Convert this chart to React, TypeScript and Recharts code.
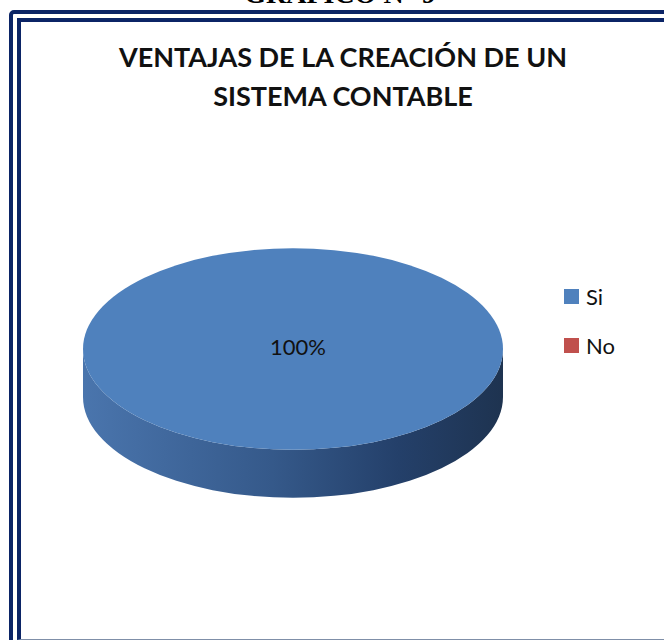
import React from "react";
import { PieChart, Pie, Cell, Legend } from "recharts";

// answers to the survey question
const categories = ["Si", "No"];
const values = [100, 0];
const colors = ["#4f81bd", "#c0504d"];

const data = categories.map((name, i) => ({ name, value: values[i] }));

const FONT = "Lato, 'Open Sans', sans-serif";
const TILT = 0.48; // vertical squash of the 3D disc
const DEPTH = 48; // thickness of the disc

const renderSlice = (props: any) => {
  const { cx, cy, outerRadius, startAngle, endAngle, fill, index } = props;
  if (Math.abs(endAngle - startAngle) < 0.01) return null;
  const rx = outerRadius;
  const ry = outerRadius * TILT;
  const gid = "side-" + index;
  const full = Math.abs(endAngle - startAngle) >= 359.99;

  const pt = (a: number) => {
    const r = (a * Math.PI) / 180;
    return [cx + rx * Math.cos(r), cy - ry * Math.sin(r)];
  };
  let top;
  if (full) {
    top = <ellipse cx={cx} cy={cy} rx={rx} ry={ry} fill={fill} />;
  } else {
    const [x1, y1] = pt(startAngle);
    const [x2, y2] = pt(endAngle);
    const large = Math.abs(endAngle - startAngle) > 180 ? 1 : 0;
    const sweep = endAngle < startAngle ? 1 : 0;
    top = (
      <path
        d={`M${cx},${cy} L${x1},${y1} A${rx},${ry} 0 ${large} ${sweep} ${x2},${y2} Z`}
        fill={fill}
      />
    );
  }

  return (
    <g>
      <defs>
        <linearGradient id={gid} x1="0" y1="0" x2="1" y2="0">
          <stop offset="0%" stopColor="#4a75ad" />
          <stop offset="45%" stopColor="#35598a" />
          <stop offset="75%" stopColor="#24406a" />
          <stop offset="100%" stopColor="#1e3350" />
        </linearGradient>
      </defs>
      {full && (
        <path
          d={`M${cx - rx},${cy} L${cx - rx},${cy + DEPTH} A${rx},${ry} 0 0 0 ${cx + rx},${cy + DEPTH} L${cx + rx},${cy} A${rx},${ry} 0 0 1 ${cx - rx},${cy} Z`}
          fill={`url(#${gid})`}
        />
      )}
      {top}
    </g>
  );
};

const renderLabel = (props: any) => {
  const { cx, cy, percent } = props;
  if (!percent) return null;
  return (
    <text
      x={cx + 5}
      y={cy - 3}
      textAnchor="middle"
      dominantBaseline="central"
      fill="#111"
      fontFamily={FONT}
      fontSize={22}
    >
      {`${Math.round(percent * 100)}%`}
    </text>
  );
};

const renderLegend = (props: any) => {
  const items = [...(props.payload || [])].sort(
    (a: any, b: any) => categories.indexOf(a.value) - categories.indexOf(b.value)
  );
  return (
    <div style={{ fontFamily: FONT }}>
      {items.map((entry: any) => (
        <div
          key={entry.value}
          style={{ display: "flex", alignItems: "center", height: 49 }}
        >
          <span
            style={{
              display: "inline-block",
              width: 15,
              height: 15,
              background: colors[categories.indexOf(entry.value)],
              marginRight: 7,
            }}
          />
          <span style={{ fontSize: 22, color: "#111" }}>{entry.value}</span>
        </div>
      ))}
    </div>
  );
};

export default function App() {
  return (
    <div
      style={{
        position: "absolute",
        left: 0,
        top: 0,
        width: 664,
        height: 640,
        overflow: "hidden",
        background: "#fff",
      }}
    >
      <div
        style={{
          position: "absolute",
          left: 0,
          width: 680,
          top: -22,
          textAlign: "center",
          fontFamily: "'Liberation Serif', serif",
          fontWeight: "bold",
          fontSize: 28,
          lineHeight: "32px",
        }}
      >
        GRÁFICO N° 9
      </div>
      <div
        style={{
          position: "absolute",
          left: 9,
          top: 10,
          width: 720,
          height: 720,
          border: "4px solid #0b2466",
          borderRadius: 5,
          boxSizing: "border-box",
        }}
      />
      <div
        style={{
          position: "absolute",
          left: 17,
          top: 18,
          width: 720,
          height: 622,
          borderTop: "4px solid #0b2466",
          borderLeft: "4px solid #0b2466",
          borderBottom: "1px solid #7f8fa8",
          boxSizing: "border-box",
        }}
      />
      <div
        style={{
          position: "absolute",
          left: 0,
          width: 686,
          top: 37,
          textAlign: "center",
          fontFamily: FONT,
          fontWeight: "bold",
          fontSize: 27,
          lineHeight: "39px",
          color: "#111",
        }}
      >
        VENTAJAS DE LA CREACIÓN DE UN
        <br />
        SISTEMA CONTABLE
      </div>
      <div style={{ position: "absolute", left: 0, top: 0 }}>
        <PieChart
          width={664}
          height={640}
          margin={{ top: 0, right: 0, bottom: 0, left: 0 }}
        >
          <Pie
            data={data}
            dataKey="value"
            nameKey="name"
            cx={293}
            cy={349}
            outerRadius={210}
            startAngle={90}
            endAngle={-270}
            stroke="none"
            shape={renderSlice}
            label={renderLabel}
            labelLine={false}
            isAnimationActive={false}
          >
            {data.map((d, i) => (
              <Cell key={d.name} fill={colors[i]} />
            ))}
          </Pie>
          <Legend
            layout="vertical"
            content={renderLegend}
            wrapperStyle={{ position: "absolute", left: 564, top: 272, width: 90 }}
          />
        </PieChart>
      </div>
    </div>
  );
}
